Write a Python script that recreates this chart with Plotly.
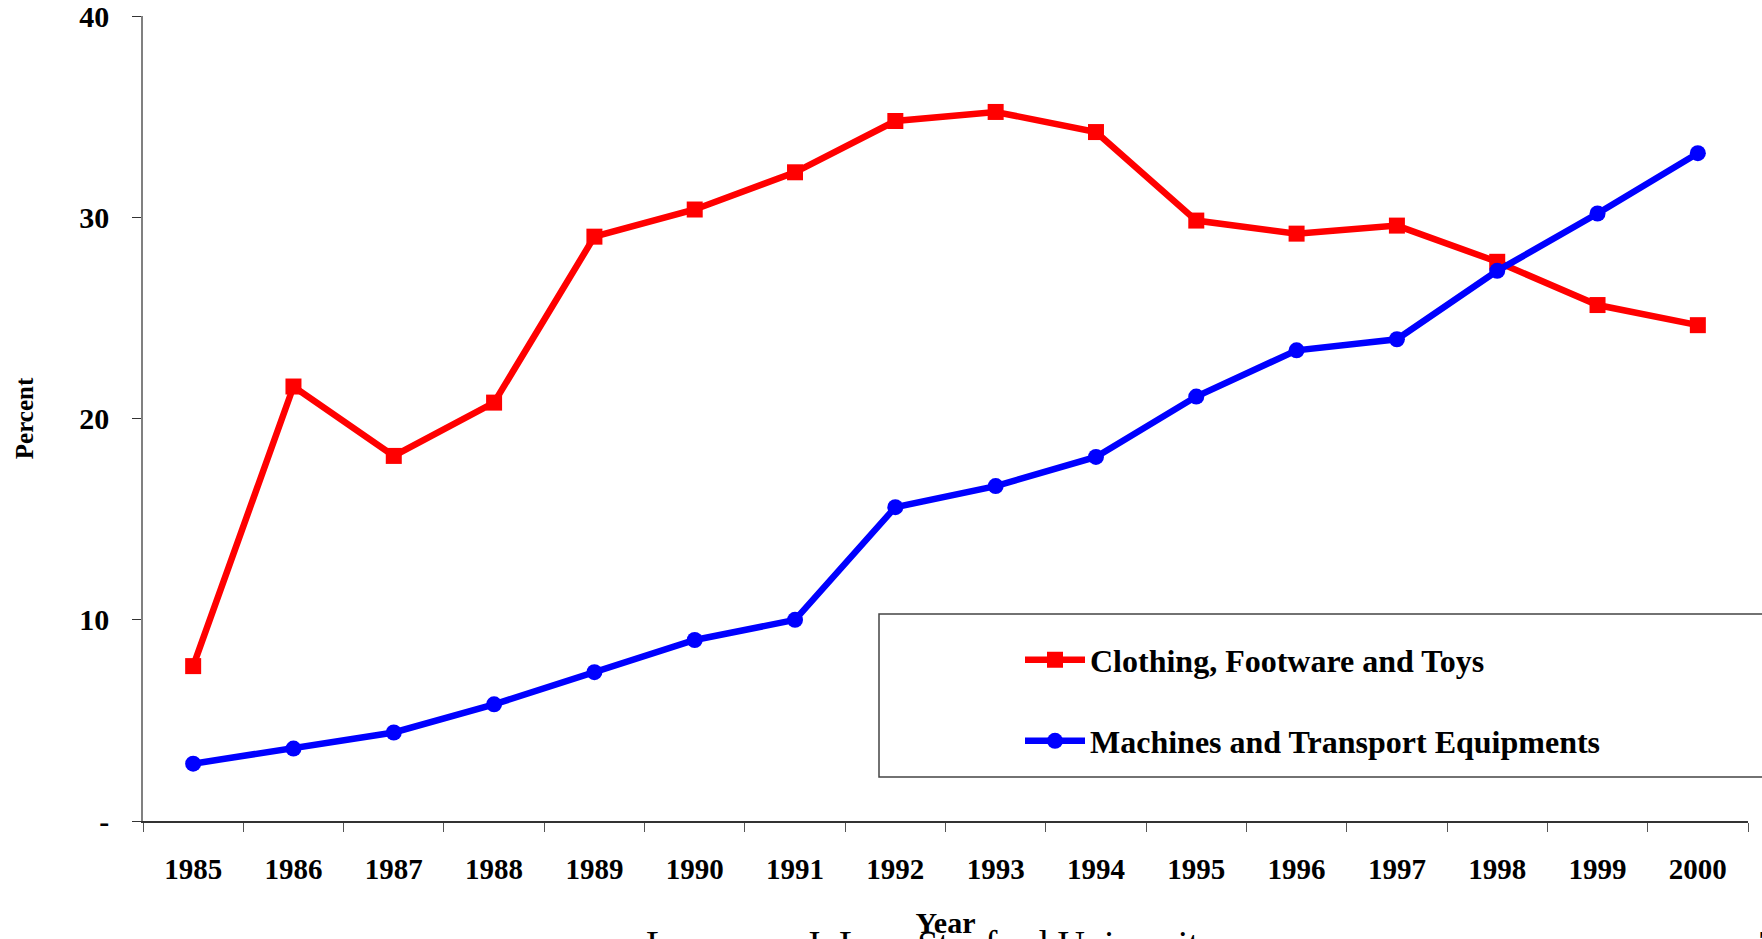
import plotly.graph_objects as go

years = ["1985", "1986", "1987", "1988", "1989", "1990", "1991", "1992",
         "1993", "1994", "1995", "1996", "1997", "1998", "1999", "2000"]
clothing = [7.7, 21.6, 18.15, 20.8, 29.05, 30.4, 32.25, 34.8,
            35.25, 34.25, 29.85, 29.2, 29.6, 27.8, 25.65, 24.65]
machines = [2.85, 3.6, 4.4, 5.8, 7.4, 9.0, 10.0, 15.6,
            16.65, 18.1, 21.1, 23.4, 23.95, 27.35, 30.2, 33.2]
y_tickvals = [0, 10, 20, 30, 40]
y_ticktext = ["-", "10", "20", "30", "40"]

W, H = 1762, 939
L, R, T, B = 143, 14, 16, 118
pw, ph = W - L - R, H - T - B


def px_x(x):
    return (x - L) / pw


def px_y(y):
    return (H - B - y) / ph


serif = "Liberation Serif, Times New Roman, serif"

fig = go.Figure()
fig.add_trace(go.Scatter(
    x=years, y=clothing, mode="lines+markers",
    name="Clothing, Footware and Toys",
    line=dict(color="#FF0000", width=6.5),
    marker=dict(symbol="square", size=16, color="#FF0000"),
    legend="legend", showlegend=True,
))
fig.add_trace(go.Scatter(
    x=years, y=machines, mode="lines+markers",
    name="Machines and Transport Equipments",
    line=dict(color="#0000FF", width=6.5),
    marker=dict(symbol="circle", size=16, color="#0000FF"),
    legend="legend2", showlegend=True,
))

legend_common = dict(
    font=dict(family=serif, size=32, color="black", weight="bold"),
    bgcolor="rgba(0,0,0,0)", borderwidth=0,
    xanchor="left", yanchor="middle", itemwidth=60,
)

fig.update_layout(
    width=W, height=H,
    margin=dict(l=L, r=R, t=T, b=B, autoexpand=False),
    paper_bgcolor="white", plot_bgcolor="white",
    font=dict(family=serif, color="black"),
    showlegend=True,
    legend=dict(x=px_x(1020), y=px_y(660), **legend_common),
    legend2=dict(x=px_x(1020), y=px_y(741), **legend_common),
    xaxis=dict(
        type="category", tickson="boundaries", automargin=False,
        showline=True, linecolor="#333333", linewidth=1.5,
        ticks="outside", ticklen=9, tickcolor="#555555", tickwidth=1.2,
        tickfont=dict(family=serif, size=29, color="black", weight="bold"),
        ticklabelstandoff=21,
        showgrid=False, zeroline=False,
        range=[-0.5, 15.5],
        title=dict(text="<b>Year</b>", font=dict(family=serif, size=30, color="black"),
                   standoff=30),
    ),
    yaxis=dict(
        range=[0, 40.02], tickvals=y_tickvals, ticktext=y_ticktext, automargin=False,
        showline=True, linecolor="#808080", linewidth=1.5,
        ticks="outside", ticklen=9, tickcolor="#333333", tickwidth=1.2,
        tickfont=dict(family=serif, size=30, color="black", weight="bold"),
        ticklabelstandoff=17, ticklabeloverflow="allow",
        showgrid=False, zeroline=False,
        title=dict(text="<b>Percent</b>", font=dict(family=serif, size=25, color="black"),
                   standoff=39),
    ),
    shapes=[dict(
        type="rect", xref="paper", yref="paper",
        x0=px_x(879), x1=px_x(1775), y0=px_y(777), y1=px_y(614),
        line=dict(color="#444444", width=1.5), fillcolor="rgba(0,0,0,0)",
        layer="below",
    )],
    annotations=[
        dict(text="Lawrence J. Lau, Stanford University", xref="paper", yref="paper",
             x=px_x(932), y=px_y(921), xanchor="center", yanchor="top",
             showarrow=False, font=dict(family=serif, size=38, color="black")),
        dict(text="7", xref="paper", yref="paper",
             x=px_x(1756), y=px_y(921), xanchor="left", yanchor="top",
             showarrow=False, font=dict(family=serif, size=38, color="black")),
    ],
)

fig.write_html(
    "out.html",
    config={"displayModeBar": False},
    post_script="document.body.style.margin='0';document.body.style.overflow='hidden';",
)
